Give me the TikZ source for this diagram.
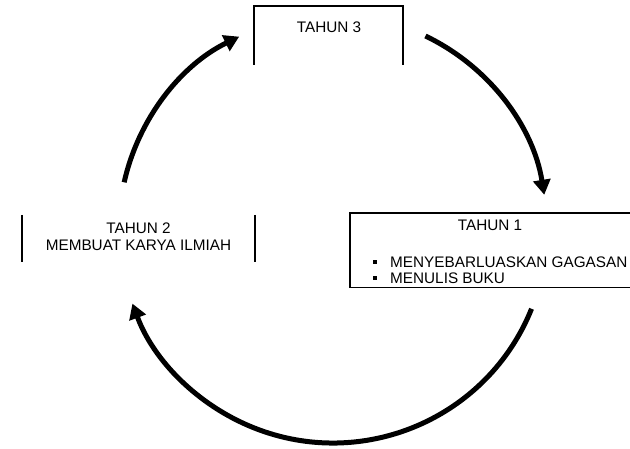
\documentclass[tikz,border=0pt]{standalone}
\usepackage{fontspec}
\setmainfont{Liberation Sans}
\usetikzlibrary{arrows.meta}
\begin{document}
\begin{tikzpicture}[x=1pt,y=-1pt,
  lbl/.style={inner sep=0pt,font=\fontsize{15.3}{17}\selectfont},
  frame/.style={line width=1.3pt,black},
  cyc/.style={line width=5pt,-{Triangle[length=15pt,width=17pt]}},
  bul/.style={fill=black,minimum size=4pt,inner sep=0pt}]
\useasboundingbox (0,0) rectangle (630,449);
\coordinate (c) at (333,229);
% TAHUN 3
\node[lbl] (t3) at (329,27) {TAHUN 3};
\coordinate (t3a) at (254,65);
\coordinate (t3b) at (403,65);
\draw[frame] (t3a) -- (254,6) -- (403,6) -- (t3b);
% TAHUN 2
\node[lbl,align=center] (t2) at (138.5,237) {TAHUN 2\\MEMBUAT KARYA ILMIAH};
\coordinate (t2a) at (22,215);
\coordinate (t2b) at (255,215);
\draw[frame] (t2a) -- (22,262);
\draw[frame] (t2b) -- (255,262);
% TAHUN 1
\coordinate (t1a) at (350,213);
\draw[frame] (640,213) -- (t1a) -- (350,287.5) -- (640,287.5);
\node[lbl] (t1) at (490,225) {TAHUN 1};
\node[bul] (b1) at (375,262) {};
\node[bul] (b2) at (375,278) {};
\node[lbl,anchor=west] (i1) at (390,262) {MENYEBARLUASKAN GAGASAN};
\node[lbl,anchor=west] (i2) at (390,278) {MENULIS BUKU};
% cycle arrows
\draw[cyc] (c) ++(-167.4:214) arc[start angle=-167.4,end angle=-116,radius=214];
\draw[cyc] (c) ++(-64.4:214) arc[start angle=-64.4,end angle=-9.2,radius=214];
\draw[cyc] (c) ++(21.9:214) arc[start angle=21.9,end angle=159.6,radius=214];
\end{tikzpicture}
\end{document}
